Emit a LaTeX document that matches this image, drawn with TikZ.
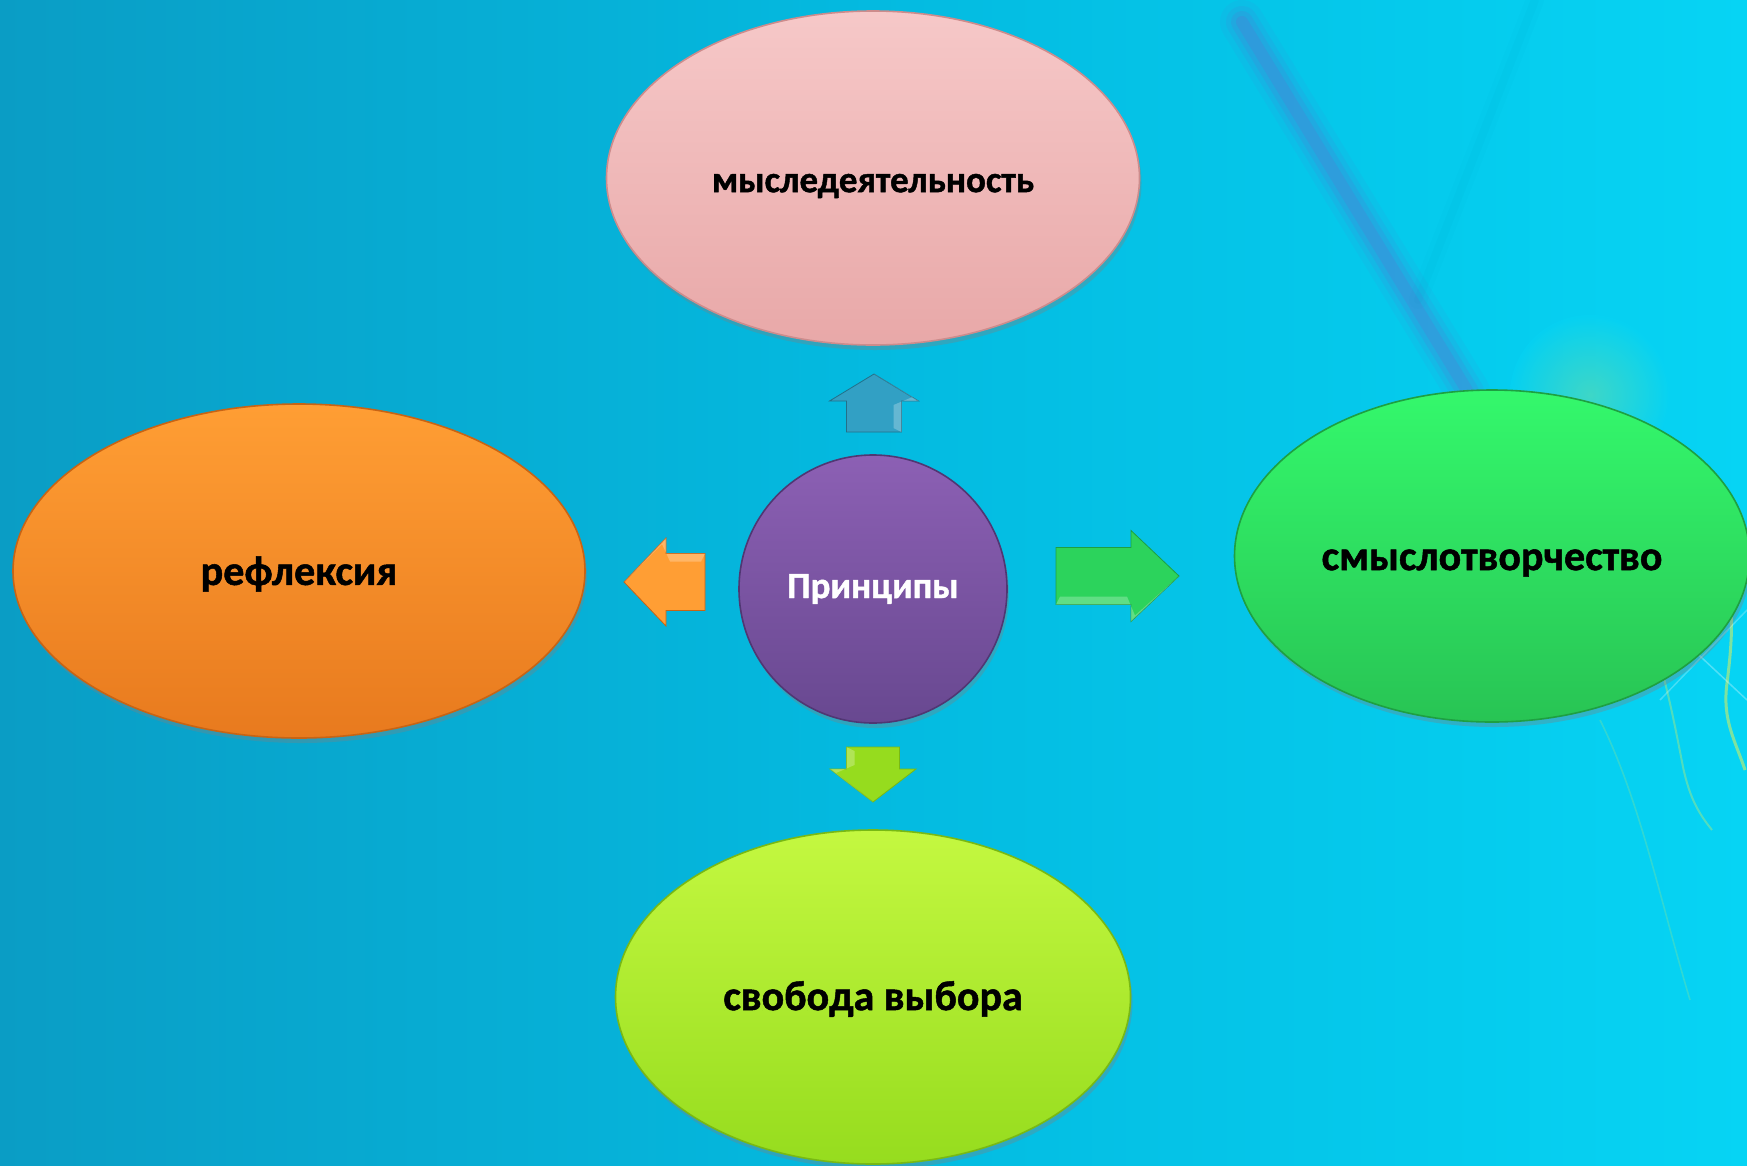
\documentclass[tikz,border=0pt]{standalone}
\usepackage{fontspec}
\setmainfont{Carlito}[BoldFeatures={FakeBold=1.2}]
\usetikzlibrary{shapes.geometric,shadows,calc}
\definecolor{bgL}{RGB}{10,157,197}
\definecolor{bgM}{RGB}{4,186,224}
\definecolor{bgR}{RGB}{6,212,244}
\definecolor{pinkT}{RGB}{246,200,200}
\definecolor{pinkB}{RGB}{232,168,168}
\definecolor{pinkD}{RGB}{205,140,140}
\definecolor{oraT}{RGB}{255,158,52}
\definecolor{oraB}{RGB}{232,122,30}
\definecolor{oraD}{RGB}{200,100,20}
\definecolor{grnT}{RGB}{52,248,108}
\definecolor{grnB}{RGB}{40,196,84}
\definecolor{grnD}{RGB}{30,160,65}
\definecolor{ylwT}{RGB}{196,248,64}
\definecolor{ylwB}{RGB}{150,220,30}
\definecolor{ylwD}{RGB}{120,185,20}
\definecolor{vioT}{RGB}{140,96,180}
\definecolor{vioB}{RGB}{104,72,144}
\definecolor{vioD}{RGB}{80,55,115}
\definecolor{arrBlu}{RGB}{50,160,196}
\definecolor{wisp}{RGB}{225,240,90}
\definecolor{glow}{RGB}{130,225,150}
\tikzset{
  oval/.style={ellipse, inner sep=0pt, line width=1.6pt,
    drop shadow={opacity=0.35, shadow xshift=2pt, shadow yshift=-5pt},
    text=black},
  lbl/.style={font=\fontsize{#1}{#1}\selectfont\bfseries},
  blk/.style={line width=0.8pt, line join=miter},
}
% #1 shift, #2 angle, #3 half length, #4 head length, #5 shaft half, #6 head half, #7 fill, #8 edge
\newcommand{\blkarrow}[8]{%
  \path[blk, shift={#1}, rotate=#2, fill=#7, draw=#8]
    (-#3,-#5) -- ({#3-#4},-#5) -- ({#3-#4},-#6) -- (#3,0) -- ({#3-#4},#6)
    -- ({#3-#4},#5) -- (-#3,#5) -- cycle;
  \path[shift={#1}, rotate=#2, fill=white, opacity=0.25]
    (-#3,#5) -- ({#3-#4},#5) -- ({#3-#4},#6) -- (#3,0) -- ({#3-#4+4},{#6-6}) -- ({#3-#4-4},{#5-8}) -- (-#3+4,{#5-8}) -- cycle;
}
\newcommand{\dn}[2]{\raisebox{-#1pt}[\height][\depth]{#2}}
\begin{document}
\begin{tikzpicture}[x=1pt,y=-1pt]
\useasboundingbox (0,0) rectangle (1747,1165);
\clip (0,0) rectangle (1747,1165);
% background
\shade[left color=bgL, right color=bgR, middle color=bgM] (0,0) rectangle (1747,1165);
% diagonal purple streak
\foreach \w/\o in {44/0.06,32/0.09,22/0.13,12/0.16}{
  \draw[line width=\w pt, color={rgb,255:red,120;green,90;blue,200}, opacity=\o, line cap=round]
    (1242,22) -- (1468,392);
}
% faint darker streak
\foreach \w/\o in {18/0.025,8/0.035}{
  \draw[line width=\w pt, color={rgb,255:red,0;green,120;blue,170}, opacity=\o, line cap=round]
    (1535,0) -- (1418,300);
}
% yellow glow near green oval
\shade[inner color=glow, outer color=bgR, opacity=0.45] (1590,395) circle (80pt);
% yellow wisps
\draw[line width=3pt, wisp, opacity=0.55]
  (1703,547) .. controls (1735,575) and (1735,620) .. (1727,683)
  .. controls (1722,720) and (1735,740) .. (1745,770);
\draw[line width=2pt, wisp, opacity=0.35]
  (1630,577) .. controls (1660,650) and (1670,700) .. (1683,767)
  .. controls (1690,800) and (1700,815) .. (1712,830);
\draw[line width=2pt, wisp, opacity=0.3]
  (1543,690) .. controls (1575,675) and (1610,668) .. (1640,670);
\draw[line width=1.6pt, wisp, opacity=0.2]
  (1600,720) .. controls (1640,800) and (1660,900) .. (1690,1000);
\draw[line width=1.5pt, white, opacity=0.3]
  (1640,600) -- (1747,700);
\draw[line width=1.5pt, white, opacity=0.25]
  (1660,700) -- (1747,610);

% nodes
\node[oval, lbl=37, minimum width=533pt, minimum height=334pt, top color=pinkT, bottom color=pinkB, draw=pinkD]
  (top) at (873,178) {\dn{8}{мыследеятельность}};
\node[oval, lbl=42, minimum width=572pt, minimum height=334pt, top color=oraT, bottom color=oraB, draw=oraD]
  (left) at (299,571) {\dn{3}{рефлексия}};
\node[oval, lbl=42, minimum width=515pt, minimum height=332pt, top color=grnT, bottom color=grnB, draw=grnD]
  (right) at (1492,556) {\dn{7}{смыслотворчество}};
\node[oval, lbl=42, minimum width=515pt, minimum height=334pt, top color=ylwT, bottom color=ylwB, draw=ylwD]
  (bottom) at (873,997) {\dn{2}{свобода выбора}};
\node[circle, minimum size=268pt, inner sep=0pt, line width=1.6pt, top color=vioT, bottom color=vioB, draw=vioD,
  drop shadow={opacity=0.35, shadow xshift=2pt, shadow yshift=-5pt},
  lbl=37, text=white]
  (center) at (873,589) {Принципы};

% block arrows
\blkarrow{(874,403)}{90}{29}{27}{27.5}{44.5}{arrBlu}{arrBlu!70!black}
\blkarrow{(873,774.5)}{-90}{27.5}{33}{26.5}{43}{ylwB}{ylwD}
\blkarrow{(664.5,582)}{180}{40.5}{42}{28.5}{44}{oraT}{oraD}
\blkarrow{(1117.5,576)}{0}{61.5}{48}{28.5}{45.5}{grnT!85!black}{grnD}
\end{tikzpicture}
\end{document}
